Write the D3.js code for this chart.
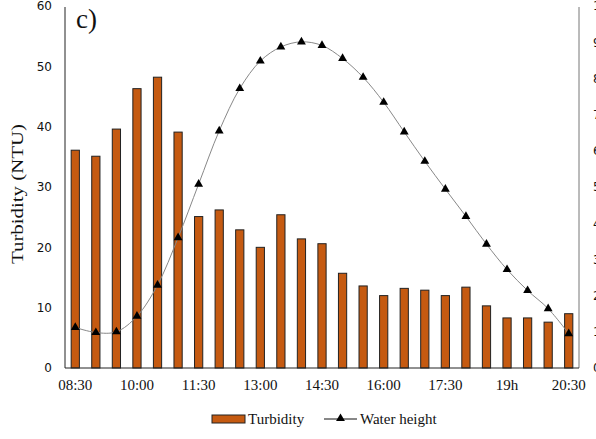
<!DOCTYPE html>
<html>
<head>
<meta charset="utf-8">
<script src="https://cdn.jsdelivr.net/npm/d3@7"></script>
<style>
  body { margin: 0; background: #fff; }
  svg { display: block; }
</style>
</head>
<body>
<svg id="chart" width="596" height="439"></svg>
<script>
// half-hourly sampling times
var times = ["08:30","09:00","09:30","10:00","10:30","11:00","11:30","12:00","12:30","13:00",
             "13:30","14:00","14:30","15:00","15:30","16:00","16:30","17:00","17:30","18:00",
             "18:30","19h","19:30","20:00","20:30"];
var tickTimes = ["08:30","10:00","11:30","13:00","14:30","16:00","17:30","19h","20:30"];
var turbidity = [36.1, 35.1, 39.6, 46.3, 48.2, 39.1, 25.1, 26.2, 22.9, 20.0,
                 25.4, 21.4, 20.6, 15.7, 13.6, 12.0, 13.2, 12.9, 12.0, 13.4,
                 10.3, 8.3, 8.3, 7.6, 9.0];
var waterHeight = [1.12, 0.98, 1.0, 1.43, 2.29, 3.6, 5.08, 6.55, 7.72, 8.48,
                   8.87, 9.01, 8.91, 8.55, 8.03, 7.34, 6.52, 5.71, 4.94, 4.19,
                   3.42, 2.72, 2.14, 1.64, 0.95];
var leftTicks = [0, 10, 20, 30, 40, 50, 60];
var rightTicks = [0, 1, 2, 3, 4, 5, 6, 7, 8, 9, 10];

var svg = d3.select("#chart");
var plotLeft = 65, plotRight = 579, plotTop = 6, plotBottom = 368;

var x = d3.scaleBand().domain(times).range([plotLeft, plotRight]).paddingInner(0.6).paddingOuter(0.3);
var y = d3.scaleLinear().domain([0, 60]).range([plotBottom, plotTop]);
var y2 = d3.scaleLinear().domain([0, 10]).range([plotBottom, plotTop]);

// bars
svg.append("g").selectAll("rect")
	.data(turbidity)
	.enter().append("rect")
	.attr("x", function(d, i) { return x(times[i]); })
	.attr("y", function(d) { return y(d); })
	.attr("width", x.bandwidth())
	.attr("height", function(d) { return plotBottom - y(d); })
	.style("fill", "#c55a11")
	.attr("stroke", "#222")
	.attr("stroke-width", 1);

// axes lines
svg.append("line").attr("x1", plotLeft).attr("x2", plotLeft).attr("y1", plotTop + 1).attr("y2", plotBottom)
	.attr("stroke", "#222").attr("stroke-width", 1);
svg.append("line").attr("x1", plotRight).attr("x2", plotRight).attr("y1", plotTop + 1).attr("y2", plotBottom)
	.attr("stroke", "#777").attr("stroke-width", 1);
svg.append("line").attr("x1", plotLeft).attr("x2", plotRight).attr("y1", plotBottom).attr("y2", plotBottom)
	.attr("stroke", "#222").attr("stroke-width", 1);

// left tick labels
var yAxis = svg.append("g").attr("transform", "translate(" + plotLeft + ",0)")
	.call(d3.axisLeft(y).tickValues(leftTicks).tickSize(0).tickPadding(13));
yAxis.select(".domain").remove();
yAxis.selectAll("text").style("font-family", "DejaVu Sans").style("font-size", "12px").attr("fill", "#111");

// right tick labels (cut off by the frame edge)
var y2Axis = svg.append("g").attr("transform", "translate(" + plotRight + ",0)")
	.call(d3.axisRight(y2).tickValues(rightTicks).tickSize(0).tickPadding(14));
y2Axis.select(".domain").remove();
y2Axis.selectAll("text").style("font-family", "DejaVu Sans").style("font-size", "12px").attr("fill", "#111");

// bottom tick labels
var xAxis = svg.append("g").attr("transform", "translate(0," + plotBottom + ")")
	.call(d3.axisBottom(x).tickValues(tickTimes).tickSize(0).tickPadding(11));
xAxis.select(".domain").remove();
xAxis.selectAll("text").style("font-family", "Liberation Serif").style("font-size", "15px").attr("fill", "#111");

// water height line
var line = d3.line()
	.x(function(d, i) { return x(times[i]) + x.bandwidth() / 2; })
	.y(function(d) { return y2(d); })
	.curve(d3.curveCatmullRom.alpha(0.5));
svg.append("path")
	.attr("d", line(waterHeight))
	.attr("stroke", "#888")
	.attr("stroke-width", 1)
	.attr("fill", "none");

var tri = d3.symbol().type(d3.symbolTriangle).size(34);
svg.append("g").selectAll("path")
	.data(waterHeight)
	.enter().append("path")
	.attr("d", tri)
	.attr("transform", function(d, i) {
		return "translate(" + (x(times[i]) + x.bandwidth() / 2) + "," + y2(d) + ")";
	})
	.style("fill", "black");

// y title
svg.append("text")
	.attr("transform", "translate(23,194) rotate(-90)")
	.attr("text-anchor", "middle")
	.attr("textLength", 140)
	.attr("lengthAdjust", "spacingAndGlyphs")
	.style("font-family", "Liberation Serif")
	.style("font-size", "16px")
	.attr("fill", "#111")
	.text("Turbidity (NTU)");

// panel letter
svg.append("text").attr("x", 76).attr("y", 28)
	.style("font-family", "Liberation Serif").style("font-size", "27px")
	.attr("fill", "#111")
	.text("c)");

// legend
var legend = svg.append("g");
legend.append("rect").attr("x", 212).attr("y", 415).attr("width", 33).attr("height", 8)
	.style("fill", "#c55a11").attr("stroke", "#222").attr("stroke-width", 1);
legend.append("text").attr("x", 248).attr("y", 424)
	.style("font-family", "Liberation Serif").style("font-size", "15px").attr("fill", "#111")
	.text("Turbidity");
legend.append("line").attr("x1", 324).attr("x2", 357).attr("y1", 419).attr("y2", 419)
	.attr("stroke", "#111").attr("stroke-width", 1);
legend.append("path").attr("d", tri).attr("transform", "translate(340.5,418.5)").style("fill", "black");
legend.append("text").attr("x", 360).attr("y", 424)
	.style("font-family", "Liberation Serif").style("font-size", "15px").attr("fill", "#111")
	.text("Water height");
</script>
</body>
</html>
